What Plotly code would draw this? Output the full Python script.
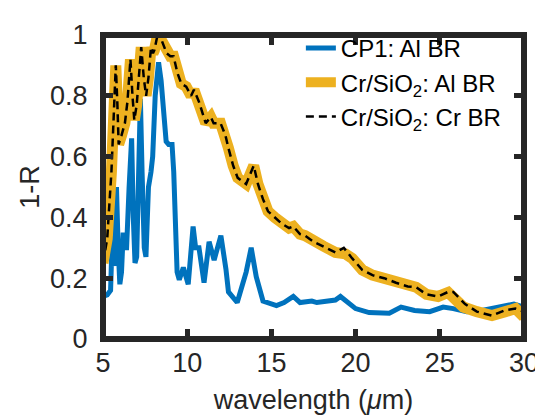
import plotly.graph_objects as go

# CP1: Al BR
cp1_x = [5.0, 5.25, 5.45, 5.55, 5.65, 5.8, 5.9, 6.0, 6.1, 6.2, 6.3, 6.4, 6.55, 6.7, 6.8, 6.9,
         7.0, 7.1, 7.22, 7.32, 7.45, 7.55, 7.7, 7.85, 7.95, 8.1, 8.3, 8.45, 8.6, 8.75, 8.9,
         9.1, 9.2, 9.3, 9.4, 9.53, 9.77, 10.06, 10.35, 10.5, 10.7, 11.0, 11.3, 11.6, 12.0,
         12.3, 12.45, 12.97, 13.3, 13.5, 13.8, 14.1, 14.5, 15.3, 15.75, 16.3, 16.7, 17.4,
         17.7, 18.4, 18.8, 19.1, 19.4, 20.0, 20.8, 22.0, 22.7, 23.5, 24.4, 25.2, 25.8,
         26.6, 27.5, 28.5, 29.4, 30.0]
cp1_y = [0.14, 0.145, 0.16, 0.34, 0.24, 0.5, 0.3, 0.18, 0.22, 0.35, 0.3, 0.3, 0.5, 0.66, 0.4, 0.25,
         0.27, 0.5, 0.79, 0.55, 0.3, 0.27, 0.5, 0.55, 0.6, 0.8, 0.91, 0.85, 0.76, 0.65, 0.64,
         0.64, 0.55, 0.35, 0.22, 0.195, 0.235, 0.18, 0.37, 0.30, 0.30, 0.185, 0.32, 0.26, 0.34,
         0.23, 0.155, 0.12, 0.185, 0.22, 0.30, 0.205, 0.125, 0.11, 0.12, 0.14, 0.12, 0.125,
         0.12, 0.125, 0.128, 0.14, 0.127, 0.10, 0.087, 0.085, 0.105, 0.094, 0.09, 0.105, 0.10,
         0.09, 0.094, 0.105, 0.115, 0.105]

# Cr/SiO2: Al BR
al_x = [5.0, 5.25, 5.5, 5.6, 5.76, 5.85, 5.93, 6.1, 6.3, 6.45, 6.63, 6.75, 6.86, 7.0, 7.1,
        7.27, 7.42, 7.56, 7.7, 7.85, 7.97, 8.05, 8.2, 8.5, 8.78, 9.0, 9.19, 9.42, 9.65, 9.94,
        10.23, 10.4, 10.7, 11.1, 11.4, 11.57, 11.98, 12.27, 12.44, 12.73, 13.0, 13.5, 13.8,
        13.95, 14.2, 14.5, 14.8, 15.2, 15.6, 16.05, 16.3, 16.7, 17.0, 17.5, 18.1, 18.8, 19.4,
        19.8, 20.4, 21.0, 21.7, 22.4, 23.1, 23.6, 24.2, 24.9, 25.5, 25.8, 26.4, 27.2, 28.1,
        28.9, 29.5, 29.8, 30.0]
al_y = [0.25, 0.33, 0.55, 0.70, 0.90, 0.78, 0.64, 0.67, 0.71, 0.78, 0.92, 0.80, 0.72, 0.77, 0.85,
        0.96, 0.86, 0.80, 0.86, 0.96, 0.94, 0.95, 0.99, 0.98, 0.94, 0.93, 0.93, 0.875, 0.84, 0.83,
        0.80, 0.82, 0.78, 0.71, 0.73, 0.71, 0.71, 0.67, 0.63, 0.57, 0.53, 0.51, 0.55,
        0.57, 0.51, 0.46, 0.42, 0.40, 0.38, 0.365, 0.37, 0.345, 0.34, 0.32, 0.305, 0.285, 0.28,
        0.265, 0.227, 0.21, 0.20, 0.185, 0.173, 0.17, 0.147, 0.14, 0.153, 0.14, 0.105, 0.09, 0.077,
        0.09, 0.10, 0.083, 0.09]

# Cr/SiO2: Cr BR
cr_x = [5.0, 5.25, 5.5, 5.6, 5.76, 5.85, 5.93, 6.1, 6.3, 6.45, 6.63, 6.75, 6.86, 7.0, 7.1,
        7.27, 7.42, 7.56, 7.7, 7.85, 7.97, 8.05, 8.2, 8.5, 8.78, 9.0, 9.19, 9.42, 9.65, 9.94,
        10.23, 10.4, 10.7, 11.1, 11.4, 11.57, 11.98, 12.27, 12.44, 12.73, 13.0, 13.5, 13.8,
        13.95, 14.2, 14.5, 14.8, 15.2, 15.6, 16.05, 16.3, 16.7, 17.0, 17.5, 18.1, 18.8, 19.3,
        19.8, 20.4, 21.0, 21.7, 22.4, 23.1, 23.6, 24.2, 24.9, 25.5, 25.8, 26.5, 27.2, 28.1,
        28.9, 29.5, 29.8, 30.0]
cr_y = [0.25, 0.33, 0.55, 0.70, 0.90, 0.78, 0.64, 0.67, 0.71, 0.78, 0.92, 0.80, 0.72, 0.77, 0.85,
        0.96, 0.86, 0.80, 0.86, 0.96, 0.94, 0.95, 0.99, 0.98, 0.94, 0.93, 0.93, 0.875, 0.84, 0.83,
        0.80, 0.82, 0.78, 0.71, 0.73, 0.71, 0.71, 0.67, 0.63, 0.57, 0.53, 0.51, 0.55,
        0.57, 0.51, 0.46, 0.42, 0.40, 0.38, 0.365, 0.37, 0.345, 0.34, 0.32, 0.305, 0.285, 0.30,
        0.265, 0.227, 0.21, 0.20, 0.185, 0.173, 0.17, 0.147, 0.14, 0.155, 0.155, 0.115, 0.09, 0.077,
        0.095, 0.10, 0.095, 0.09]

x_ticks = [5, 10, 15, 20, 25, 30]
y_ticks = [0, 0.2, 0.4, 0.6, 0.8, 1]
y_tick_labels = ["0", "0.2", "0.4", "0.6", "0.8", "1"]

FONT = "Liberation Sans, Arial, sans-serif"
AX = "#262626"

fig = go.Figure()
fig.add_trace(go.Scatter(x=cp1_x, y=cp1_y, mode="lines", name="CP1: Al BR",
                         line=dict(color="#0072BD", width=5)))
fig.add_trace(go.Scatter(x=al_x, y=al_y, mode="lines", name="Cr/SiO<sub>2</sub>: Al BR",
                         line=dict(color="#EDB120", width=11)))
fig.add_trace(go.Scatter(x=cr_x, y=cr_y, mode="lines", name="Cr/SiO<sub>2</sub>: Cr BR",
                         line=dict(color="black", width=2.5, dash="8px,5px")))

axis_common = dict(showline=True, linecolor=AX, linewidth=1, mirror="ticks",
                   ticks="inside", ticklen=10, tickwidth=5, tickcolor=AX,
                   showgrid=False, zeroline=False,
                   tickfont=dict(family=FONT, size=27, color=AX))

fig.update_xaxes(range=[5, 30], tickvals=x_ticks,
                 title=dict(text="wavelength (<i>μ</i>m)", font=dict(family=FONT, size=27, color=AX),
                            standoff=12),
                 **axis_common)
fig.update_yaxes(range=[0, 1], tickvals=y_ticks, ticktext=y_tick_labels, ticklabelstandoff=9,
                 title=dict(text="1-R", font=dict(family=FONT, size=27, color=AX), standoff=2),
                 **axis_common)

# thick axes box (MATLAB style), drawn on the plot-area edges
fig.add_shape(type="rect", xref="paper", yref="paper", x0=0, y0=0, x1=1, y1=1,
              line=dict(color=AX, width=6), fillcolor="rgba(0,0,0,0)", layer="above")

fig.update_layout(
    width=543, height=417,
    margin=dict(l=95, r=18, t=18, b=86),
    plot_bgcolor="white", paper_bgcolor="white",
    legend=dict(x=0.47, y=1.03, xanchor="left", yanchor="top",
                bgcolor="rgba(0,0,0,0)", font=dict(family=FONT, size=24, color="black"),
                itemwidth=30, tracegroupgap=0),
    showlegend=True,
)

fig.write_html("out.html")
